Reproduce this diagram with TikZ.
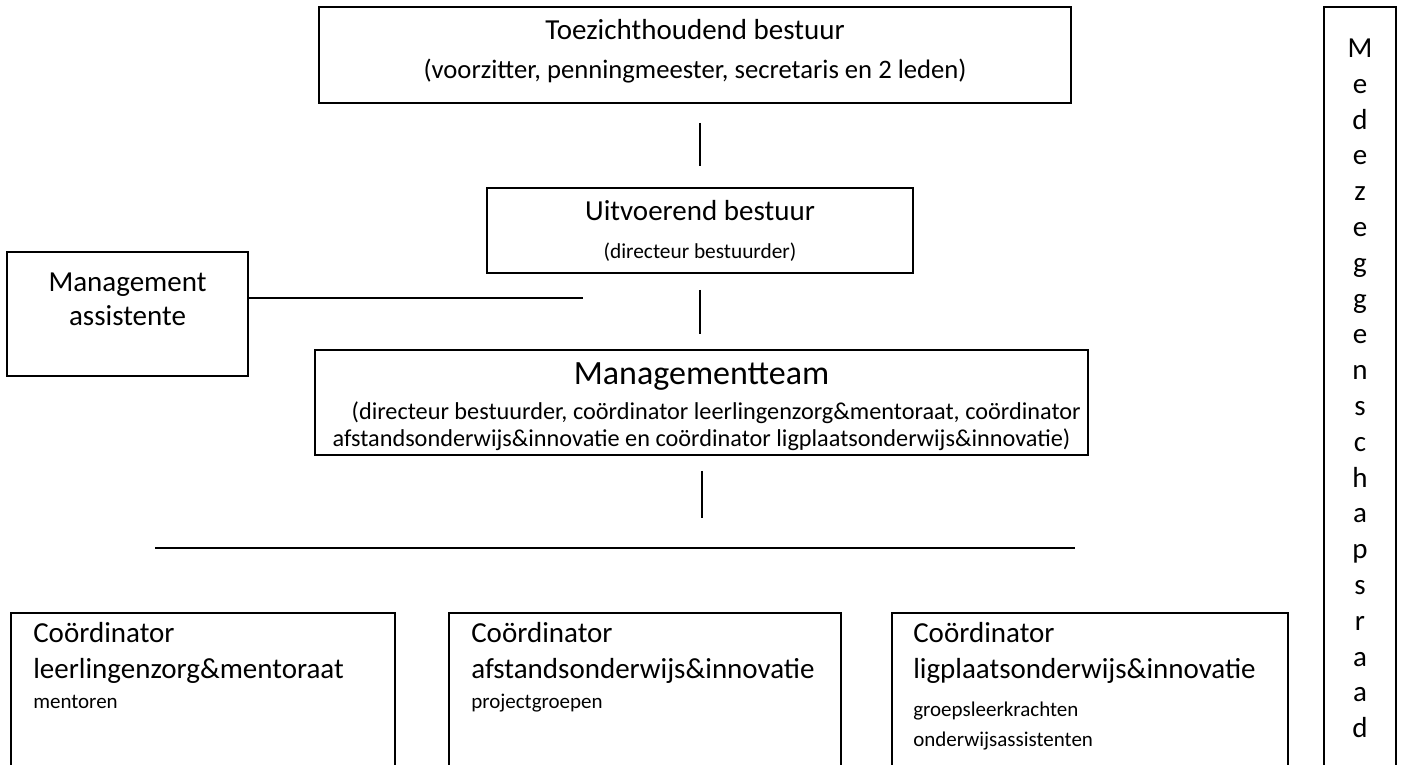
\documentclass[tikz,border=0pt]{standalone}
\usepackage{fontspec}
\setmainfont{Carlito}
\tikzstyle{box}=[
    rectangle,
    draw=black,
    line width=1.2pt,
    inner sep=0pt]
\tikzstyle{conn}=[line width=1.2pt]
\newcommand{\bigtxt}{\fontsize{21.75}{25.5}\selectfont}
\newcommand{\subtxt}{\fontsize{15.75}{22.5}\selectfont}

\begin{document}
\begin{tikzpicture}[x=0.75pt,y=0.75pt,yscale=-1,xscale=1]
\clip (0,0) rectangle (1402,764);

%Toezichthoudend bestuur
\node [box, minimum width=564pt, minimum height=72pt] (tzb) at (695,55) {};
\node [align=center, font=\fontsize{20}{24}\selectfont] (tzb-t) at (695,51.5) {{\bigtxt Toezichthoudend bestuur}\\[5.25pt](voorzitter, penningmeester, secretaris en 2 leden)};
%Uitvoerend bestuur
\node [box, minimum width=319.5pt, minimum height=63.75pt, align=center, font=\fontsize{16}{22.5}\selectfont] (uvb) at (700,230.5) {{\bigtxt Uitvoerend bestuur}\\[6pt](directeur bestuurder)};
%Management assistente
\node [box, minimum width=180.75pt, minimum height=93pt] (maa) at (127.5,314) {};
\node [align=center, font=\bigtxt] (maa-t) at (127.5,299) {Management\\assistente};
%Managementteam
\node [box, minimum width=579.75pt, minimum height=78.75pt] (mt) at (701.5,402.5) {};
\node [align=center, font=\fontsize{18.2}{20.5}\selectfont] (mt-t) at (701.5,407) {{\fontsize{25.5}{30}\selectfont Managementteam}\\[5.5pt]\hspace*{22pt}(directeur bestuurder, co\"ordinator leerlingenzorg\&mentoraat, co\"ordinator\\afstandsonderwijs\&innovatie en co\"ordinator ligplaatsonderwijs\&innovatie)};

%Coordinatoren
\node [box, anchor=north west, minimum width=288pt, minimum height=150pt] (cb1) at (10,612) {};
\node [box, anchor=north west, minimum width=294pt, minimum height=150pt] (cb2) at (448,612) {};
\node [box, anchor=north west, minimum width=297pt, minimum height=150pt] (cb3) at (891,612) {};
\node [anchor=north west, inner sep=0pt, align=left, font=\subtxt] (cb1-t) at (33,622) {{\bigtxt Co\"ordinator}\\[4.5pt]{\bigtxt leerlingenzorg\&mentoraat}\\[0pt]mentoren};
\node [anchor=north west, inner sep=0pt, align=left, font=\subtxt] (cb2-t) at (471,622) {{\bigtxt Co\"ordinator}\\[4.5pt]{\bigtxt afstandsonderwijs\&innovatie}\\[0pt]projectgroepen};
\node [anchor=north west, inner sep=0pt, align=left, font=\subtxt] (cb3-t) at (913,622) {{\bigtxt Co\"ordinator}\\[4.5pt]{\bigtxt ligplaatsonderwijs\&innovatie}\\[6pt]groepsleerkrachten\\onderwijsassistenten};

%Medezeggenschapsraad
\node [box, anchor=north, minimum width=54pt, minimum height=600pt] (mr) at (1360,6) {};
\foreach \l [count=\i from 0] in {M,e,d,e,z,e,g,g,e,n,s,c,h,a,p,s,r,a,a,d}
  \node [anchor=base, font=\bigtxt] (mr-\i) at (1360,57.5+35.8*\i) {\l};

%Lijnen
\coordinate (mt-end) at (702,518);
\coordinate (hl-l) at (155,548);
\coordinate (hl-r) at (1075,548);
\coordinate (maa-end) at (583,298);
\draw [conn, shorten <=14.25pt, shorten >=15.75pt] (uvb.north |- tzb.south) -- (uvb.north);
\draw [conn, shorten <=12pt, shorten >=11.25pt] (uvb.south) -- (uvb.south |- mt.north);
\draw [conn, shorten <=11.25pt] (mt.south -| mt-end) -- (mt-end);
\draw [conn] (hl-l) -- (hl-r);
\draw [conn] (maa.east |- maa-end) -- (maa-end);

\end{tikzpicture}
\end{document}
